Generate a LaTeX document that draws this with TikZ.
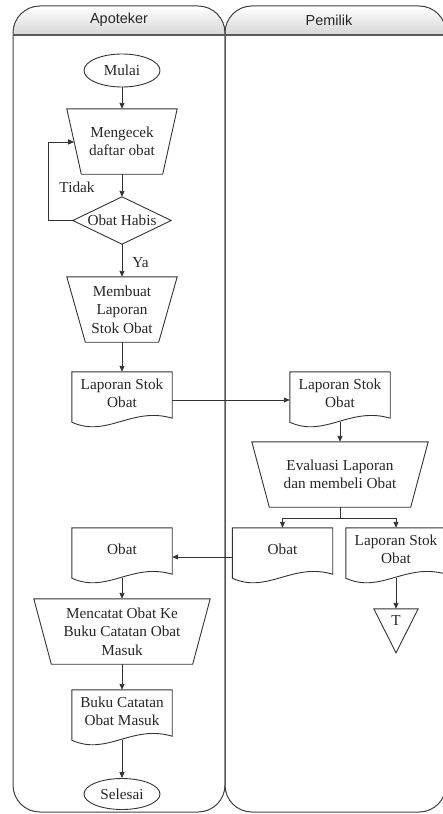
\documentclass[tikz,border=0pt]{standalone}
\usepackage{fontspec}
\setmainfont{Liberation Serif}
\newfontfamily\headfont{Liberation Sans}
\usetikzlibrary{arrows.meta,calc,shapes.geometric}
\begin{document}
\begin{tikzpicture}[x=1bp,y=-1bp,
  line/.style={draw=black!80, line width=0.9bp},
  laneline/.style={draw=black!75, line width=1bp},
  arr/.style={line, -{Triangle[length=6bp,width=5bp]}},
  txt/.style={font=\fontsize{15.3}{18.5}\selectfont, text=black!85, align=center, inner sep=0pt},
  headtxt/.style={font=\headfont\fontsize{14.5}{16}\selectfont, text=black!85, inner sep=0pt},
  term/.style={txt, ellipse, line, minimum width=76bp, minimum height=33bp},
  docnode/.style={txt, rectangle, minimum width=100bp, minimum height=42bp},
  trapnode/.style={txt, rectangle, minimum height=65bp},
  decnode/.style={txt, rectangle, minimum width=98bp, minimum height=47bp}
]
\useasboundingbox (0,0) rectangle (443,814);

% ---- swimlanes ----
\begin{scope}
  \clip[rounded corners=27] (13,6) rectangle (225,812);
  \shade[top color=white, bottom color=black!16] (13,6) rectangle (225,35);
\end{scope}
\begin{scope}
  \clip[rounded corners=27] (225,6) rectangle (446,812);
  \shade[top color=white, bottom color=black!16] (225,6) rectangle (446,35);
\end{scope}
\draw[laneline, rounded corners=27] (13,6) rectangle (225,812);
\draw[laneline, rounded corners=27] (225,6) rectangle (446,812);
\draw[laneline, draw=black!65, line width=1.6bp] (13,35) -- (446,35);
\node[headtxt] (h1) at (119,20) {Apoteker};
\node[headtxt] (h2) at (329,20) {Pemilik};

% ---- nodes ----
\node[term] (mulai) at (122,70.5) {Mulai};
\node[trapnode, minimum width=110bp] (t1) at (122,141.5) {Mengecek\\daftar obat};
\node[decnode] (dd) at (122,220.5) {Obat Habis};
\node[trapnode, minimum width=110bp] (t2) at (122,309.5) {Membuat\\Laporan\\Stok Obat};
\node[docnode] (d1) at (122,393) {Laporan Stok\\Obat};
\node[docnode] (d2) at (340,393) {Laporan Stok\\Obat};
\node[trapnode, minimum width=176bp] (t3) at (340,474.5) {Evaluasi Laporan\\dan membeli Obat};
\node[docnode] (d3) at (282.5,549) {Obat};
\node[docnode] (d4) at (396,549) {Laporan Stok\\Obat};
\node[txt, rectangle, minimum width=44bp, minimum height=24bp] (tri) at (396,621) {T};
\node[docnode] (d5) at (122,549) {Obat};
\node[trapnode, minimum width=176bp] (t4) at (122,631.5) {Mencatat Obat Ke\\Buku Catatan Obat\\Masuk};
\node[docnode] (d6) at (122,711) {Buku Catatan\\Obat Masuk};
\node[term, minimum height=31bp] (selesai) at (122,794) {Selesai};
\node[txt] (tidak) at (77,187) {Tidak};

% ---- shape outlines ----
\foreach \n in {d1,d2,d3,d4,d5,d6}{
  \draw[line] ($(\n.south west)+(0,8)$) -- (\n.north west) -- (\n.north east)
    -- ($(\n.south east)+(0,4)$)
    .. controls ($(\n.south west)+(60,-8)$) and ($(\n.south west)+(35,24)$) .. ($(\n.south west)+(0,8)$) -- cycle;
}
\foreach \n/\i in {t1/14.5, t2/18.5, t3/17.5, t4/17.5}{
  \draw[line] (\n.north west) -- (\n.north east) -- ($(\n.south east)+(-\i,0)$)
    -- ($(\n.south west)+(\i,0)$) -- cycle;
}
\draw[line] (dd.north) -- (dd.east) -- (dd.south) -- (dd.west) -- cycle;
\draw[line] (tri.north west) -- (tri.north east) -- ($(tri.north)+(0,44)$) -- cycle;

% ---- connectors ----
\coordinate (t1l) at ($(t1.north west)!0.507!($(t1.south west)+(14.5,0)$)$);
\draw[arr] (mulai) -- (t1);
\draw[arr] (t1) -- (dd);
\draw[arr] (dd.west) -- ++(-24,0) |- (t1l);
\draw[arr] (dd) -- node[txt, anchor=west, xshift=10bp, pos=0.55] (ya) {Ya} (t2);
\draw[arr] (t2) -- (d1);
\draw[arr] ($(d1.east)+(0,7)$) -- ($(d2.west)+(0,7)$);
\draw[arr] ($(d2.south)+(0,7.5)$) -- (t3);
\draw[line] (t3.south) -- ++(0,11) coordinate (split);
\draw[arr] (split) -| (d3.north);
\draw[arr] (split) -| (d4.north);
\draw[arr] ($(d4.south)+(0,7.5)$) -- (tri.north);
\draw[arr] ($(d3.west)+(0,8)$) -- ($(d5.east)+(0,8)$);
\draw[arr] ($(d5.south)+(0,7.5)$) -- (t4);
\draw[arr] (t4) -- (d6);
\draw[arr] ($(d6.south)+(0,7.5)$) -- (selesai);
\end{tikzpicture}
\end{document}
